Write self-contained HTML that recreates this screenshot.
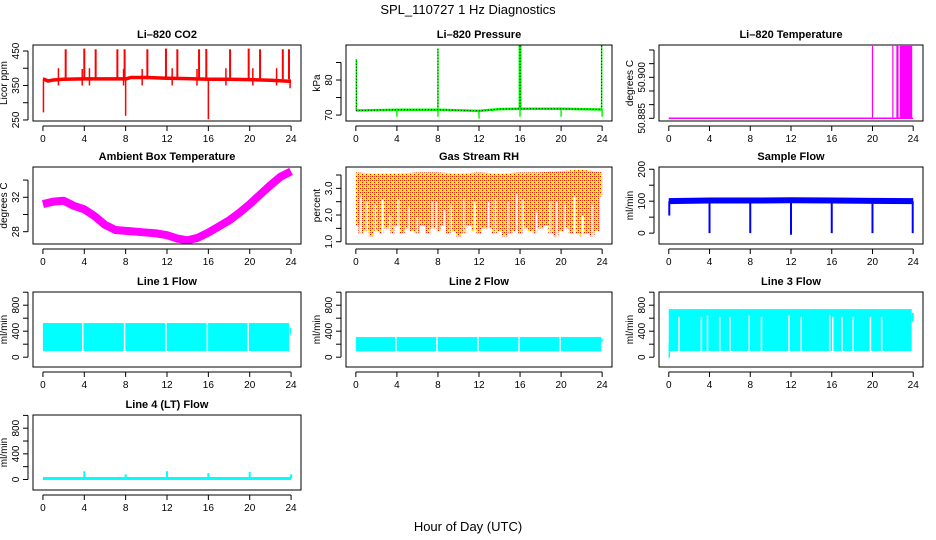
<!DOCTYPE html>
<html><head><meta charset="utf-8"><style>
html,body{margin:0;padding:0;background:#fff;}
svg{display:block;font-family:"Liberation Sans",Arial,sans-serif;}
</style></head><body>
<svg id="chart" xmlns="http://www.w3.org/2000/svg" width="936" height="540" viewBox="0 0 936 540">
<defs>
<pattern id="rhpat" width="4" height="4" patternUnits="userSpaceOnUse">
<rect width="4" height="4" fill="#ffff00" shape-rendering="crispEdges"/>
<rect x="0" y="0" width="1" height="1" fill="#ff0000" shape-rendering="crispEdges"/>
<rect x="2" y="2" width="1" height="1" fill="#ff0000" shape-rendering="crispEdges"/>
<rect x="2" y="0" width="1" height="1" fill="#ff4000" shape-rendering="crispEdges"/>
</pattern>
</defs>
<text x="468" y="14" font-size="13" text-anchor="middle">SPL_110727  1 Hz Diagnostics</text>
<text x="468" y="531" font-size="13" text-anchor="middle">Hour of Day (UTC)</text>
</svg>
<script>
// ---- data ----
const xTicks = [0,4,8,12,16,20,24];
// CO2
const co2BaseHours = [0,0.1,0.5,1,2,4,6,8,8.5,10,12,14,16,18,20,22,24];
const co2Base = [368,368,363,366,368,369,369,369,373,373,371,370,368,368,367,365,362];
const co2SpikeHours = [2.2,4,5.1,7.2,7.9,10.1,11.9,13,15.1,15.8,18.1,19.9,21,23.2,23.8];
const co2SpikeTop = [455,457,455,455,455,455,457,455,455,456,455,457,455,455,455];
const co2SmallHours = [1.5,3.8,4.5,7.8,9.6,12.5,14.9,17.7,20.3,22.6];
const co2SmallTop = [400,398,400,398,398,400,398,400,400,400];
const co2DipHours = [0.05,8,16,23.9];
const co2DipLow = [272,262,252,342];
// Pressure
const presHours = [0,2,4,8,12,14,16,20,24];
const presBase = [71.3,71.4,71.5,71.5,71.2,71.7,71.8,71.8,71.6];
const presSpikeHours = [0.05,8,16,23.95];
const presSpikeTop = [86,89,90,90];
const presDipHours = [4,8,12,16,20,24];
const presDipLow = [69.5,69.5,69,69.5,69.5,69.5];
// Li-820 temperature
const tempBase = 50.885;
const tempSpikeHours = [20,22,22.4,22.5];
const tempSpikeTop = [50.9115,50.9115,50.9115,50.9115];
const tempBlock = [22.7,23.9];
// Ambient box temperature
const ambHours = [0,1,2,3,4,5,6,7,8,9,10,11,12,13,14,15,16,17,18,19,20,21,22,23,24];
const ambTemp = [31.2,31.5,31.6,31.0,30.6,29.8,28.8,28.2,28.1,28.0,27.9,27.8,27.6,27.2,27.0,27.3,27.9,28.6,29.3,30.2,31.2,32.3,33.4,34.4,35.0];
// Gas stream RH
const rhLow = [1.6,1.3,1.4,1.2,1.4,1.3,1.5,1.3,1.6,1.3,1.5,1.4,1.3,1.6,1.3,1.5,1.4,1.6,1.3,1.4,1.2,1.3,1.6,1.4,1.3,1.5,1.5,1.3,1.4,1.2,1.3,1.4,1.3,1.5,1.4,1.3,1.5,1.6,1.3,1.2,1.4,1.5,1.3,1.3,1.2,1.3,1.2,1.4,2.7];
const rhTop = [3.6,3.55,3.55,3.6,3.6,3.55,3.6,3.55,3.6,3.6,3.65,3.7,3.6];
const rhGapHours = [0.5,1.1,1.9,2.6,3.3,4.1,5.2,6.0,7.4,7.8,8.6,9.3,10.5,11.6,12.9,13.6,14.8,15.7,16.3,17.6,18.9,19.6,20.4,21.3,22.1,23.0];
const rhGapTop = [2.7,2.5,2.4,2.6,2.0,2.6,2.3,1.9,2.5,2.5,2.2,2.4,2.6,2.5,2.5,2.6,2.5,2.8,2.6,2.1,2.5,2.5,2.4,2.7,2.0,2.4];
// Sample flow
const sfHours = [0,4,8,12,16,20,24];
const sfBase = [100,102,102,103,102,101,100];
const sfDipHours = [0.05,4,8,12,16,20,23.95];
const sfDipLow = [55,0,0,-5,0,0,0];
// Line flows
const l1Top = 525, l1Low = 95, l1End = 23.8;
const l1GapHours = [3.85,7.9,11.9,15.9,19.85];
const l2Top = 310, l2Low = 90, l2End = 23.9;
const l2GapHours = [3.9,7.9,11.9,15.9,19.9];
const l3Top = 740, l3Low = 95, l3End = 23.85;
const l3GapHours = [1.0,3.2,3.8,5.0,6.0,7.9,9.1,11.8,13.0,15.8,16.1,17.0,18.1,19.8,20.9];
const l3GapTop = [620,620,640,620,620,640,620,640,620,640,620,620,620,620,620];
const l4Base = 15;
const l4SpikeHours = [4,8,12,16,20,24];
const l4SpikeTop = [130,80,130,100,120,80];

// ---- layout ----
const svg = document.getElementById('chart');
const NS = 'http://www.w3.org/2000/svg';
function el(tag, attrs, parent){const e=document.createElementNS(NS,tag);for(const k in attrs)e.setAttribute(k,attrs[k]);(parent||svg).appendChild(e);return e;}
const cols=[[33,301],[346,612],[659,923]];
const rows=[[45,121],[167,244],[292,367],[415,490]];
function mkPanel(name,c,r,ymin,ymax,ticks,labels,ylab,title){
  const [L,R]=cols[c],[T,B]=rows[r];
  const p={L,R,T,B,
    x:h=>L+(h+0.96)/25.92*(R-L),
    y:v=>B-(v-ymin)/(ymax-ymin)*(B-T)};
  const g=el('g',{});
  
  
  p.g=g;
  const t=el('text',{x:(L+R)/2,y:T-7,'font-size':11,'font-weight':'bold','text-anchor':'middle'},g);
  
  
  t.textContent=title;
  const xa=el('g',{stroke:'#000','stroke-width':1},g);
  
  
  el('line',{x1:p.x(0),x2:p.x(24),y1:B+5,y2:B+5},xa);
  xTicks.forEach(h=>{
    el('line',{x1:p.x(h),x2:p.x(h),y1:B+5,y2:B+10},xa);
    const tx=el('text',{x:p.x(h),y:B+21,'font-size':10,'text-anchor':'middle',stroke:'none'},xa);
    
    
    tx.textContent=h;
  });
  const ya=el('g',{stroke:'#000','stroke-width':1},g);
  
  
  el('line',{x1:L-5,x2:L-5,y1:p.y(ticks[0]),y2:p.y(ticks[ticks.length-1])},ya);
  ticks.forEach((v,i)=>{
    el('line',{x1:L-10,x2:L-5,y1:p.y(v),y2:p.y(v)},ya);
    if(labels[i]){
      const yy=p.y(v);
      const tx=el('text',{x:L-14,y:yy,'font-size':10,'text-anchor':'middle',stroke:'none',transform:`rotate(-90 ${L-14} ${yy})`},ya);
      
      
      tx.textContent=labels[i];
    }
  });
  const lx=L-26, ly=(T+B)/2;
  const yl=el('text',{x:lx,y:ly,'font-size':10,'text-anchor':'middle',transform:`rotate(-90 ${lx} ${ly})`},g);
  
  
  yl.textContent=ylab;
  p.box=()=>{const b=el('rect',{x:L,y:T,width:R-L,height:B-T,fill:'none',stroke:'#000','stroke-width':1},g);
    
    };
  return p;
}
function seg(p,h,v1,v2,col,w,name){
  const l=el('line',{x1:p.x(h),x2:p.x(h),y1:p.y(v1),y2:p.y(v2),stroke:col,'stroke-width':w},p.g);
  
  
  return l;
}
function poly(p,hs,vs,col,w,name,extra){
  const pts=hs.map((h,i)=>p.x(h)+','+p.y(vs[i])).join(' ');
  const l=el('polyline',Object.assign({points:pts,fill:'none',stroke:col,'stroke-width':w,'stroke-linejoin':'round'},extra||{}),p.g);
  
  
  return l;
}
function band(p,h0,h1,lo,hi,fill,name){
  const r=el('rect',{x:p.x(h0),y:p.y(hi),width:p.x(h1)-p.x(h0),height:p.y(lo)-p.y(hi),fill:fill},p.g);
  
  
  return r;
}

// CO2
let p=mkPanel('co2',0,0,247,467.4,[250,300,350,400,450],['250','','350','','450'],'Licor ppm','Li–820 CO2');
const RED='#ff0000';
co2SpikeHours.forEach((h,i)=>seg(p,h,368,co2SpikeTop[i],RED,2,'co2-spike'));
co2SmallHours.forEach((h,i)=>seg(p,h,350,co2SmallTop[i],RED,1.5,'co2-minor-spike'));
co2DipHours.forEach((h,i)=>seg(p,h,368,co2DipLow[i],RED,1.5,'co2-dip'));
poly(p,co2BaseHours,co2Base,RED,3.5,'co2-series');
p.box();

// Pressure
p=mkPanel('pressure',1,0,68.3,90,[70,75,80,85],['70','','80',''],'kPa','Li–820 Pressure');
const GRN='#00ff00';
presDipHours.forEach((h,i)=>seg(p,h,71.5,presDipLow[i],GRN,1.5,'pressure-dip'));
presSpikeHours.forEach((h,i)=>{seg(p,h,71.5,presSpikeTop[i],GRN,i==2?3:1.5,'pressure-spike');seg(p,h,71.5,presSpikeTop[i],'#000',1,'pressure-spike-dots').setAttribute('stroke-dasharray','1 2');});
poly(p,presHours,presBase,GRN,2.5,'pressure-series');
poly(p,presHours,presBase,'#000',1,'pressure-series-dots',{'stroke-dasharray':'1 2'});
p.box();

// Li-820 temp
p=mkPanel('li820-temp',2,0,50.88401,50.91183,[50.885,50.890,50.895,50.900,50.905,50.910],['50.885','','','50.900','',''],'degrees C','Li–820 Temperature');
const MAG='#ff00ff';
poly(p,[0,24],[tempBase,tempBase],MAG,1.5,'li820-temp-series');
tempSpikeHours.forEach((h,i)=>seg(p,h,tempBase,tempSpikeTop[i],MAG,1.2,'li820-temp-spike'));
band(p,tempBlock[0],tempBlock[1],tempBase,50.9115,MAG,'li820-temp-block');
p.box();

// Ambient
p=mkPanel('ambient',0,1,26.57,35.52,[28,30,32,34],['28','','32',''],'degrees C','Ambient Box Temperature');
poly(p,ambHours,ambTemp,MAG,8,'ambient-temp-series');
p.box();

// RH
p=mkPanel('rh',1,1,0.914,3.80,[1.0,1.5,2.0,2.5,3.0,3.5],['1.0','','2.0','','3.0',''],'percent','Gas Stream RH');
{
  let d='';
  const n=rhLow.length;
  const topAt=h=>{const k=Math.min(Math.floor(h/2),rhTop.length-2);const f=(h-k*2)/2;return rhTop[k]*(1-f)+rhTop[k+1]*f;};
  for(let i=0;i<n;i++){const h0=i*0.5-(i?0.25:0),h1=Math.min(24,i*0.5+0.25);
    d+=`M${p.x(h0)},${p.y(rhLow[i])}L${p.x(h1)},${p.y(rhLow[i])}L${p.x(h1)},${p.y(topAt(h1))}L${p.x(h0)},${p.y(topAt(h0))}Z`;}
  const f=el('path',{d:d,fill:'url(#rhpat)'},p.g);
  
  
  rhGapHours.forEach((h,i)=>seg(p,h,1.0,rhGapTop[i],'#fff',1.5,'rh-gap'));
}
p.box();

// Sample flow
p=mkPanel('sample-flow',2,1,-34,207,[0,50,100,150,200],['0','','100','','200'],'ml/min','Sample Flow');
const BLU='#0000ff';
sfDipHours.forEach((h,i)=>seg(p,h,100,sfDipLow[i],BLU,2,'sample-flow-dip'));
poly(p,sfHours,sfBase,BLU,6,'sample-flow-series');
p.box();

// Line flows
const CY='#00ffff';
function flow(name,c,r,title,ymin,ymax,top,low,end,gaps,gapTops){
  const q=mkPanel(name,c,r,ymin,ymax,[0,200,400,600,800,1000],['0','','400','','800',''],'ml/min',title);
  band(q,0,end,low,top,CY,name+'-series');
  gaps.forEach((h,i)=>seg(q,h,low,gapTops?gapTops[i]:top,'#fff',1.5,name+'-gap'));
  q.box();
  return q;
}
p=flow('line1-flow',0,2,'Line 1 Flow',-151,1003,l1Top,l1Low,l1End,l1GapHours,null);
band(p,23.9,24,350,450,CY,'line1-flow-tail');
p=flow('line2-flow',1,2,'Line 2 Flow',-151,1003,l2Top,l2Low,l2End,l2GapHours,null);
band(p,23.9,24.05,230,290,CY,'line2-flow-tail');
p=flow('line3-flow',2,2,'Line 3 Flow',-151,1003,l3Top,l3Low,l3End,l3GapHours,l3GapTop);
band(p,23.85,24.05,550,680,CY,'line3-flow-tail');
seg(p,0.05,-10,220,CY,1.5,'line3-flow-start');
p=mkPanel('line4-flow',0,3,-164,1006,[0,200,400,600,800,1000],['0','','400','','800',''],'ml/min','Line 4 (LT) Flow');
poly(p,[0,24],[l4Base,l4Base],CY,3,'line4-flow-series');
l4SpikeHours.forEach((h,i)=>seg(p,h,l4Base,l4SpikeTop[i],CY,2,'line4-flow-spike'));
p.box();
</script>
</body></html>
